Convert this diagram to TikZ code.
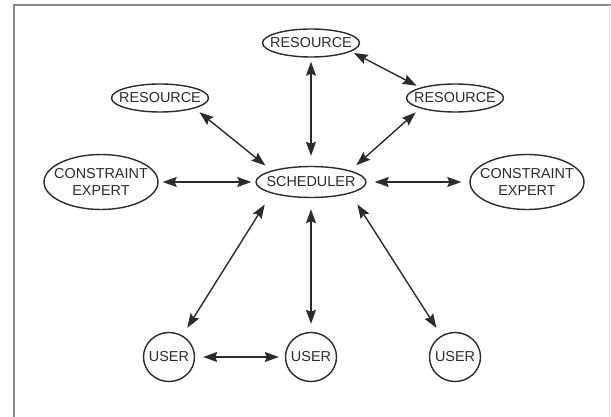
\documentclass[tikz,border=0pt]{standalone}
\usepackage{fontspec}
\setmainfont{Liberation Sans}
\usetikzlibrary{shapes.geometric,arrows.meta}
\definecolor{ink}{HTML}{2B2B2B}
\definecolor{frameline}{HTML}{8A8A8A}
\tikzset{
  % ellipse of fixed size; its text is set as a centred label
  agent/.style={ellipse, draw=ink, line width=1.4pt, inner sep=0pt},
  lbl/.style={text=ink, font=\fontsize{14.4}{15}\selectfont, align=center, inner sep=0pt},
  wide/.style={agent, minimum width=97pt, minimum height=28pt, label={[lbl]center:#1}},
  sched/.style={agent, minimum width=110pt, minimum height=31pt, label={[lbl]center:#1}},
  expert/.style={agent, minimum width=114pt, minimum height=55pt, label={[lbl]center:#1}},
  person/.style={agent, minimum width=51pt, minimum height=49pt, label={[lbl]center:#1}},
  link/.style={draw=ink, line width=1.4pt,
    {Stealth[length=14pt,width=10pt,inset=2pt]}-{Stealth[length=14pt,width=10pt,inset=2pt]}}
}
\begin{document}
\begin{tikzpicture}[x=1pt,y=-1pt]
  \useasboundingbox (0,0) rectangle (611,417);
  \fill[white] (0,0) rectangle (611,417);
  % frame
  \draw[frameline, line width=1.6pt] (14,417) -- (14,5) -- (611,5);
  \draw[gray!25, line width=0.8pt] (609.5,5) -- (609.5,417);

  % nodes
  \node[wide=RESOURCE]   (tres) at (311,43)  {};
  \node[wide=RESOURCE]   (lres) at (160,98)  {};
  \node[wide=RESOURCE]   (rres) at (455,98)  {};
  \node[sched=SCHEDULER] (sch)  at (311,182) {};
  \node[expert={CONSTRAINT\\[2pt]EXPERT}] (lce) at (101,182) {};
  \node[expert={CONSTRAINT\\[2pt]EXPERT}] (rce) at (527,182) {};
  \node[person=USER]     (lu)   at (169,357) {};
  \node[person=USER]     (mu)   at (311,357) {};
  \node[person=USER]     (ru)   at (455,357) {};

  % connectors
  \draw[link, shorten <=4pt, shorten >=10pt] (tres.south) -- (sch.north);
  \draw[link, shorten <=3pt, shorten >=4pt] (tres.-12) -- (rres.north west);
  \draw[link, shorten <=6pt, shorten >=8pt] (lres.south east) -- (sch.north west);
  \draw[link, shorten <=6pt, shorten >=8pt] (rres.south west) -- (sch.north east);
  \draw[link, shorten <=4pt, shorten >=4pt] (lce.east) -- (sch.west);
  \draw[link, shorten <=8pt, shorten >=8pt] (sch.east) -- (rce.west);
  \draw[link, shorten <=13pt, shorten >=9pt] (sch.south west) -- (lu);
  \draw[link, shorten <=11pt, shorten >=8pt] (sch.south) -- (mu.north);
  \draw[link, shorten <=13pt, shorten >=9pt] (sch.south east) -- (ru);
  \draw[link, shorten <=8pt, shorten >=6pt] (lu.east) -- (mu.west);
\end{tikzpicture}
\end{document}
